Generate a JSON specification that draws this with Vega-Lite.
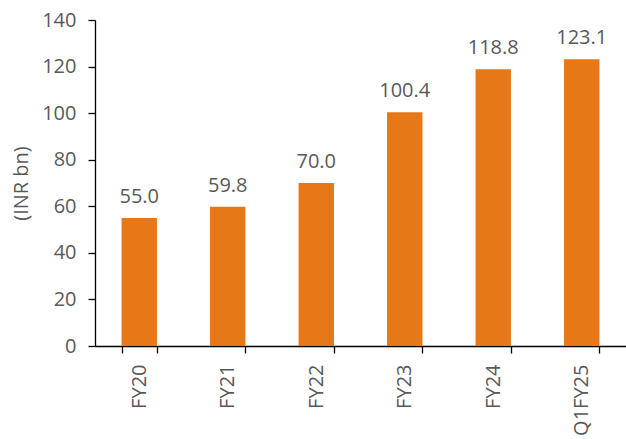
{
  "$schema": "https://vega.github.io/schema/vega-lite/v6.json",
  "width": 531,
  "height": 326,
  "autosize": {"type": "none"},
  "padding": {"left": 95, "top": 20, "right": 0, "bottom": 93},
  "background": "white",
  "config": {"view": {"stroke": null}, "font": "Open Sans"},
  "data": {"values": [
    {"period": "FY20", "value": 55.0},
    {"period": "FY21", "value": 59.8},
    {"period": "FY22", "value": 70.0},
    {"period": "FY23", "value": 100.4},
    {"period": "FY24", "value": 118.8},
    {"period": "Q1FY25", "value": 123.1}
  ]},
  "encoding": {
    "x": {"field": "period", "type": "nominal", "sort": null,
      "scale": {"paddingInner": 0.6, "paddingOuter": 0.3},
      "axis": {"title": null, "labelAngle": -90, "labelAlign": "right", "labelBaseline": "middle",
        "labelFont": "Open Sans", "labelFontSize": 20, "labelColor": "#595959", "labelPadding": 11,
        "tickBand": "extent", "tickSize": 7, "tickColor": "#000000", "domainColor": "#000000", "domainWidth": 1.3, "tickWidth": 1.3, "grid": false}},
    "y": {"field": "value", "type": "quantitative",
      "scale": {"domain": [0, 140], "nice": false},
      "axis": {"title": "(INR bn)", "values": [0, 20, 40, 60, 80, 100, 120, 140],
        "labelFont": "Open Sans", "labelFontSize": 20, "labelColor": "#595959", "labelPadding": 12,
        "titleFont": "Open Sans", "titleFontSize": 20, "titleFontWeight": "normal", "titleColor": "#595959", "titlePadding": 10,
        "tickSize": 7, "tickColor": "#000000", "domainColor": "#000000", "domainWidth": 1.3, "tickWidth": 1.3, "grid": false}}
  },
  "layer": [
    {"mark": {"type": "bar", "color": "#E67817"}},
    {"mark": {"type": "text", "baseline": "alphabetic", "dy": -15, "font": "Open Sans", "fontSize": 20, "color": "#595959"},
     "encoding": {"text": {"field": "value", "type": "quantitative", "format": ".1f"}}}
  ]
}
